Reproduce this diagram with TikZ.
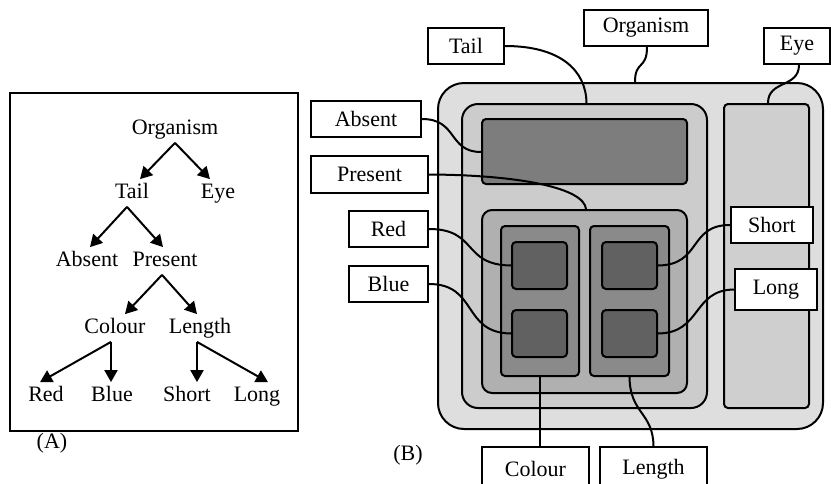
\documentclass[tikz,border=0pt]{standalone}
\usepackage{fontspec}
\setmainfont{Liberation Serif}
\usetikzlibrary{arrows.meta}

\tikzset{
  tree node/.style={inner sep=1.5pt, text height=8pt, text depth=2.5pt, font=\fontsize{11}{13}\selectfont},
  tree arrow/.style={-{Triangle[length=6pt, width=6.5pt]}, line width=1},
  region/.style={draw, line width=1, inner sep=0pt},
  label box/.style={draw, line width=1, fill=white, inner sep=0pt, font=\fontsize{11}{13}\selectfont},
  link/.style={line width=1}
}

\begin{document}
\begin{tikzpicture}[x=0.5pt, y=-0.5pt]
\useasboundingbox (0,0) rectangle (831,483);
\clip (0,0) rectangle (831,483);

% (A) tree
\draw[line width=1] (10,93) rectangle (298,431);
\node[tree node] (organism a) at (175,129) {Organism};
\node[tree node] (tail a) at (132,193) {Tail};
\node[tree node] (eye a) at (218,193) {Eye};
\node[tree node] (absent a) at (87,261) {Absent};
\node[tree node] (present a) at (165,261) {Present};
\node[tree node] (colour a) at (115,328) {Colour};
\node[tree node] (length a) at (200,328) {Length};
\node[tree node] (red a) at (46,396) {Red};
\node[tree node] (blue a) at (112,396) {Blue};
\node[tree node] (short a) at (187,396) {Short};
\node[tree node] (long a) at (257,396) {Long};

\draw[tree arrow] (organism a.south) -- ([xshift=4pt]tail a.north);
\draw[tree arrow] (organism a.south) -- ([xshift=-4pt]eye a.north);
\draw[tree arrow] ([xshift=-2.5pt]tail a.south) -- ([xshift=1.5pt]absent a.north);
\draw[tree arrow] ([xshift=-2.5pt]tail a.south) -- ([xshift=-1pt]present a.north);
\draw[tree arrow] ([xshift=-1.5pt]present a.south) -- ([xshift=5pt]colour a.north);
\draw[tree arrow] ([xshift=-1.5pt]present a.south) -- ([xshift=-1.5pt]length a.north);
\draw[tree arrow] ([xshift=-2pt]colour a.south) -- ([xshift=-3pt]red a.north);
\draw[tree arrow] ([xshift=-2pt]colour a.south) -- ([xshift=-0.5pt]blue a.north);
\draw[tree arrow] ([xshift=-1.5pt]length a.south) -- ([xshift=5pt]short a.north);
\draw[tree arrow] ([xshift=-1.5pt]length a.south) -- ([xshift=5.5pt]long a.north);

\node[tree node] (a caption) at (52,443) {(A)};

% (B) nested regions
\node[region, fill=black!13, rounded corners=13pt, minimum width=192.5pt, minimum height=173pt] (organism box) at (630.5,256) {};
\node[region, fill=black!20, rounded corners=8pt, minimum width=122.5pt, minimum height=152pt] (tail box) at (584.5,256) {};
\node[region, fill=black!51, rounded corners=2pt, minimum width=102.5pt, minimum height=32.5pt] (absent box) at (584.5,151.5) {};
\node[region, fill=black!31, rounded corners=5pt, minimum width=102.5pt, minimum height=91.5pt] (present box) at (584.5,301.5) {};
\node[region, fill=black!46, rounded corners=2pt, minimum width=39pt, minimum height=75pt] (colour box) at (540,301) {};
\node[region, fill=black!46, rounded corners=2pt, minimum width=39.5pt, minimum height=75pt] (length box) at (629.5,301) {};
\node[region, fill=black!62, rounded corners=2pt, minimum width=27.5pt, minimum height=23.5pt] (red box) at (539.5,265.5) {};
\node[region, fill=black!62, rounded corners=2pt, minimum width=27.5pt, minimum height=23.5pt] (blue box) at (539.5,333.5) {};
\node[region, fill=black!62, rounded corners=2pt, minimum width=27.5pt, minimum height=23.5pt] (short box) at (629.5,265.5) {};
\node[region, fill=black!62, rounded corners=2pt, minimum width=27.5pt, minimum height=23.5pt] (long box) at (629.5,333.5) {};
\node[region, fill=black!19, rounded corners=2pt, minimum width=42.5pt, minimum height=152pt] (eye box) at (766.5,256) {};

% labels
\node[label box, minimum width=38pt, minimum height=18pt] (tail label) at (466,46) {Tail};
\node[label box, minimum width=62pt, minimum height=18pt] (organism label) at (646,28) {Organism};
\node[label box, minimum width=33pt, minimum height=18pt] (eye label) at (797,46) {Eye};
\node[label box, minimum width=55pt, minimum height=18pt] (absent label) at (366,119) {Absent};
\node[label box, minimum width=58.5pt, minimum height=18.5pt] (present label) at (369.5,174.5) {Present};
\node[label box, minimum width=39.5pt, minimum height=18pt] (red label) at (388.5,229) {Red};
\node[label box, minimum width=39.5pt, minimum height=18pt] (blue label) at (388.5,284) {Blue};
\node[label box, minimum width=41pt, minimum height=18pt] (short label) at (772,225) {Short};
\node[label box, minimum width=41pt, minimum height=20.5pt] (long label) at (776,289.5) {Long};
\node[label box, minimum width=53.5pt, minimum height=22pt] (colour label) at (535.5,469) {Colour};
\node[label box, minimum width=53.5pt, minimum height=22pt] (length label) at (653.5,469) {Length};

\node[tree node] (b caption) at (408,455) {(B)};

% connectors
\draw[link] (tail label.east) .. controls (560,46) and (586,70) .. ([xshift=1pt]tail box.north);
\draw[link] ([xshift=0.5pt]organism label.south) .. controls (647,70) and (635,60) .. ([xshift=2.25pt]organism box.north);
\draw[link] ([xshift=1pt]eye label.south) .. controls (799,88) and (768,80) .. ([xshift=0.75pt]eye box.north);
\draw[link] (absent label.east) .. controls (458,119) and (448,152) .. ([yshift=-0.25pt]absent box.west);
\draw[link] (present label.east) .. controls (520,175) and (584,188) .. ([xshift=0.75pt]present box.north);
\draw[link] (red label.east) .. controls (478,229) and (462,265) .. (red box.west);
\draw[link] (blue label.east) .. controls (478,284) and (462,333) .. (blue box.west);
\draw[link] (short label.west) .. controls (688,225) and (702,265) .. (short box.east);
\draw[link] (long label.west) .. controls (692,290) and (702,333) .. (long box.east);
\draw[link] ([xshift=2.25pt]colour label.north) -- (colour box.south);
\draw[link] (length label.north) .. controls (653,412) and (630,414) .. (length box.south);
\end{tikzpicture}
\end{document}
